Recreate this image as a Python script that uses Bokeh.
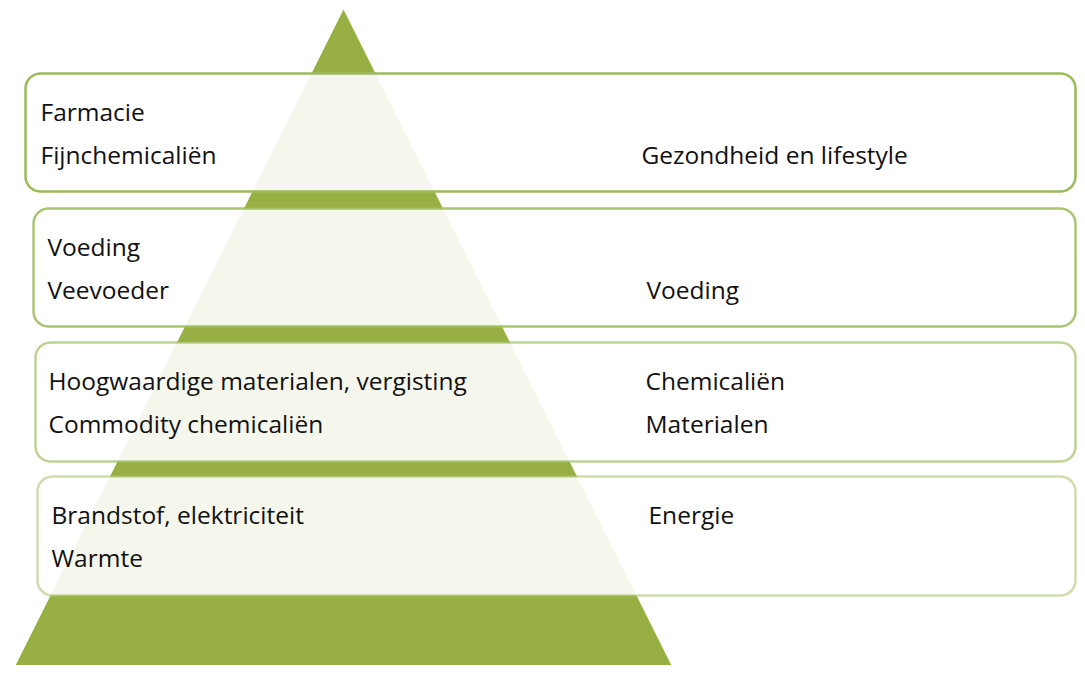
import numpy as np
from bokeh.plotting import figure
from bokeh.models import Range1d, ColumnDataSource
from bokeh.core.properties import value
from bokeh.embed import file_html
from bokeh.resources import INLINE

# ---- data (text content of the pyramid tiers, top to bottom) ----
left_line1 = ["Farmacie", "Voeding", "Hoogwaardige materialen, vergisting", "Brandstof, elektriciteit"]
left_line2 = ["Fijnchemicaliën", "Veevoeder", "Commodity chemicaliën", "Warmte"]
right_line1 = ["", "", "Chemicaliën", "Energie"]
right_line2 = ["Gezondheid en lifestyle", "Voeding", "Materialen", ""]

# ---- layout (pixel-like coordinates; y axis runs downward) ----
W, H = 1077, 665
box_left = [25, 33, 35, 37]
box_top = [73, 208, 342, 476]
box_bottom = [191, 326, 461, 595]
box_right = 1075
radius = 15
border_alpha = [1.0, 0.85, 0.65, 0.5]
left_text_x = [40, 47, 48, 51]
right_text_x = [641, 646, 645, 648]
line1_offset = 38
line2_offset = 81

tri_apex = (343, 9)
tri_base = (11, 675, 673)

GREEN = "#98b043"
BORDER = "#9bbb59"
FONT = "Open Sans"
FSIZE = "24.5px"

p = figure(width=W, height=H, output_backend="svg", toolbar_location=None,
           x_range=Range1d(0, W), y_range=Range1d(H, 0),
           x_axis_type=None, y_axis_type=None, min_border=0)
p.grid.visible = False
p.outline_line_color = None
p.background_fill_color = "white"
p.border_fill_color = "white"

# pyramid
p.patch([tri_apex[0], tri_base[1], tri_base[0]], [tri_apex[1], tri_base[2], tri_base[2]],
        fill_color=GREEN, line_color=None)


def rounded_rect(l, t, r, b, rad, n=12):
    xs, ys = [], []
    corners = [(r - rad, t + rad, -90, 0), (r - rad, b - rad, 0, 90),
               (l + rad, b - rad, 90, 180), (l + rad, t + rad, 180, 270)]
    for cx, cy, a0, a1 in corners:
        a = np.radians(np.linspace(a0, a1, n))
        xs.extend(cx + rad * np.cos(a))
        ys.extend(cy + rad * np.sin(a))
    return list(xs), list(ys)


bx, by = [], []
for i in range(len(left_line1)):
    xs, ys = rounded_rect(box_left[i], box_top[i], box_right, box_bottom[i], radius)
    bx.append(xs)
    by.append(ys)

src = ColumnDataSource(dict(xs=bx, ys=by, la=border_alpha))
p.patches("xs", "ys", source=src, fill_color="white", fill_alpha=0.9,
          line_color=BORDER, line_alpha="la", line_width=2.5)

tx, ty, tt = [], [], []
for i in range(len(left_line1)):
    y1 = box_top[i] + line1_offset
    y2 = box_top[i] + line2_offset
    for x, y, s in [(left_text_x[i], y1, left_line1[i]), (left_text_x[i], y2, left_line2[i]),
                    (right_text_x[i], y1, right_line1[i]), (right_text_x[i], y2, right_line2[i])]:
        if s:
            tx.append(x); ty.append(y); tt.append(s)

p.text(x=tx, y=ty, text=tt, text_font=value(FONT), text_font_size=FSIZE,
       text_color="#111111", text_baseline="alphabetic", text_align="left")

open("out.html", "w").write(file_html(p, INLINE))
